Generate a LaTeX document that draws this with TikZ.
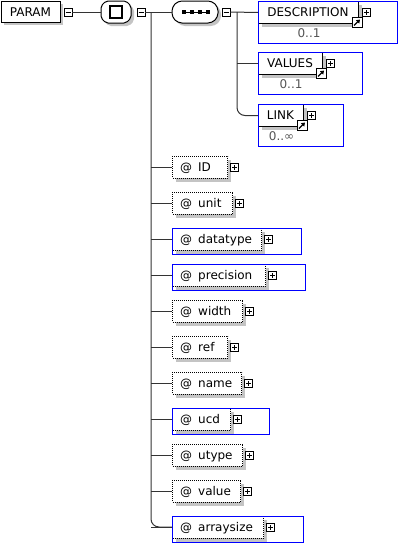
\documentclass[tikz,border=0pt]{standalone}
\usepackage{fontspec}
\setmainfont{DejaVu Sans}
\usetikzlibrary{arrows.meta}
\definecolor{sgray}{HTML}{C4C4C4}
\definecolor{linegray}{HTML}{333333}
\definecolor{multgray}{HTML}{555555}
\tikzset{
 conn/.style={draw=linegray, line width=1pt},
 lbl/.style={font=\fontsize{12}{14}\selectfont, inner sep=0pt, text=black},
 mult/.style={font=\fontsize{12}{14}\selectfont, inner sep=0pt, text=multgray},
 hdr/.style={draw=black, fill=white, line width=1pt, inner sep=0pt, anchor=north west, minimum height=22pt},
 attrbox/.style={draw=black, fill=white, line width=1pt, dash pattern=on 1pt off 1pt, inner sep=0pt, anchor=west, minimum height=22pt},
 bluebox/.style={draw=blue, line width=1pt},
 sqbase/.style={draw=black, fill=white, line width=0.8pt, minimum size=8pt, inner sep=0pt},
 pbox/.style={sqbase, path picture={\draw[line width=0.8pt] ([xshift=-2.5pt]path picture bounding box.center) -- ([xshift=2.5pt]path picture bounding box.center) ([yshift=-2.5pt]path picture bounding box.center) -- ([yshift=2.5pt]path picture bounding box.center);}},
 mbox/.style={sqbase, path picture={\draw[line width=0.8pt] ([xshift=-2.5pt]path picture bounding box.center) -- ([xshift=2.5pt]path picture bounding box.center);}},
 linkicon/.style={sqbase, minimum size=10pt, path picture={\draw[line width=1.3pt, -{Triangle[length=3.5pt,width=4.5pt]}] ([shift={(-3pt,-3pt)}]path picture bounding box.center) -- ([shift={(3pt,3pt)}]path picture bounding box.center);}},
}
% element: name, label, top y, header width, outer width, multiplicity
\newcommand\myelem[6]{%
 \fill[sgray] (261.5,#3+3.5) rectangle (258+#4+3.5,#3+25.5);
 \node[hdr, minimum width=#4] (#1) at (258,#3) {};
 \node[lbl, anchor=base] at (258+#4/2,#3+15) {#2};
 \draw[bluebox] (258,#3) rectangle (258+#5,#3+42);
 \node[linkicon] (#1-l) at ([shift={(-2pt,1.5pt)}]#1.south east) {};
 \node[pbox] (#1-p) at (258+#4+8.5,#3+11) {};
 \node[mult, anchor=base] at (258+#4/2+1,#3+36.5) {#6};
}
% attribute: name, label, line y, box width
\newcommand\myattr[4]{%
 \fill[sgray] (175.5,#3-7.5) rectangle (172+#4+3.5,#3+14.5);
 \node[attrbox, minimum width=#4] (#1) at (172,#3) {};
 \node[lbl, anchor=base west] at (180,#3+4.5) {\makebox[18pt][l]{@}#2};
 \node[pbox] (#1-p) at (172+#4+7.5,#3) {};
 \draw[conn] (t1 |- #1.west) -- (#1.west);
}
\newcommand\myblue[5]{%
 \myattr{#1}{#2}{#3}{#4}%
 \draw[bluebox] (172,#3-11) rectangle (172+#5,#3+15);
}
\begin{document}
\begin{tikzpicture}[x=1pt,y=-1pt]
\useasboundingbox (0,0) rectangle (400,544);
% PARAM
\fill[sgray] (4,4) rectangle (63,25);
\node[hdr, minimum width=59, minimum height=21] (param) at (1,1) {};
\node[lbl, anchor=base] at (30.5,16.5) {PARAM};
\node[mbox] (pm) at (68,12) {};
% octagon 1 (all)
\fill[sgray, rounded corners=2pt] (109,4)--(129,4)--(134,9)--(134,21)--(129,26)--(109,26)--(104,21)--(104,9)--cycle;
\draw[black, fill=white, line width=1pt, rounded corners=2pt] (106,1)--(126,1)--(131,6)--(131,18)--(126,23)--(106,23)--(101,18)--(101,6)--cycle;
\node[minimum width=30, minimum height=22, inner sep=0pt] (oct1) at (116,12) {};
\draw[line width=1.3pt] (110,6) rectangle (122,18);
\node[mbox] (om1) at (141,12) {};
% octagon 2 (sequence)
\fill[sgray, rounded corners=4pt] (181,4)--(215,4)--(221,10)--(221,20)--(215,26)--(181,26)--(175,20)--(175,10)--cycle;
\draw[black, fill=white, line width=1pt, rounded corners=4pt] (178,1)--(212,1)--(218,7)--(218,17)--(212,23)--(178,23)--(172,17)--(172,7)--cycle;
\node[minimum width=46, minimum height=22, inner sep=0pt] (oct2) at (195,12) {};
\draw[line width=1pt] (183,12) -- (209,12);
\foreach \q in {184,192,200,208} \fill (\q-1.7,10.3) rectangle (\q+1.7,13.7);
\node[mbox] (om2) at (226,12) {};
\coordinate (t1) at (151,12);
\coordinate (t2) at (237,12);
% elements
\myelem{desc}{DESCRIPTION}{1}{100}{139}{0..1}
\myelem{values}{VALUES}{52}{64}{104}{0..1}
\myelem{link}{LINK}{104}{45}{85}{0..∞}
% attributes
\myattr{id}{ID}{167}{55}
\myattr{unit}{unit}{203}{60}
\myblue{datatype}{datatype}{239}{89}{129}
\myblue{precision}{precision}{275}{93}{133}
\myattr{width}{width}{311}{70}
\myattr{ref}{ref}{347}{55}
\myattr{name}{name}{383}{69}
\myblue{ucd}{ucd}{419}{58}{97}
\myattr{utype}{utype}{455}{70}
\myattr{value}{value}{491}{68}
\myblue{arraysize}{arraysize}{527}{91}{131}
% connectors
\draw[conn] (pm.east) -- (oct1.west);
\draw[conn] (om1.east) -- (oct2.west);
\draw[conn] (om2.east) -- (desc.west);
\draw[conn] (t2 |- values.west) -- (values.west);
\draw[conn, rounded corners=8pt] (t2) |- (link.west);
\draw[conn, rounded corners=8pt] (t1) |- (arraysize.west);
\end{tikzpicture}
\end{document}
